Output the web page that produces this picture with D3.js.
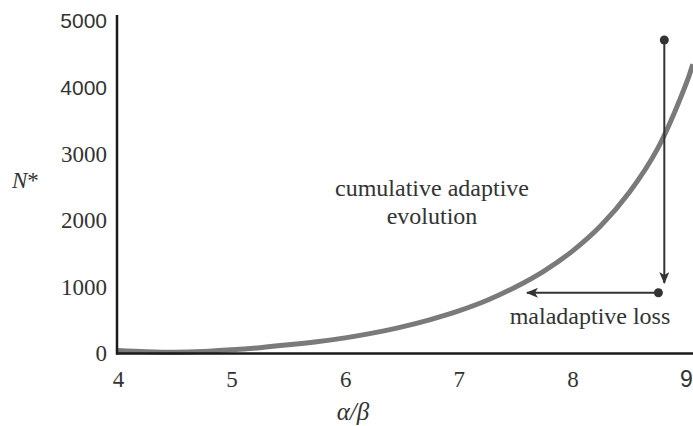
<!DOCTYPE html>
<html>
<head>
<meta charset="utf-8">
<script src="https://cdn.jsdelivr.net/npm/d3@7"></script>
</head>
<body style="margin:0; background:#fff">
<svg id="chart" width="693" height="426"></svg>
<script>
// curve N*(alpha/beta)
const ratio = [4.0, 4.25, 4.5, 4.75, 5.0, 5.25, 5.5, 5.75, 6.0, 6.25, 6.5, 6.75, 7.0, 7.25, 7.5, 7.75, 8.0, 8.25, 8.5, 8.75, 9.0, 9.06];
const nStar = [45, 28, 20, 30, 55, 88, 130, 178, 235, 310, 400, 510, 640, 800, 1000, 1240, 1540, 1920, 2420, 3080, 4050, 4350];

const xTicks = [4, 5, 6, 7, 8, 9];
const yTicks = [0, 1000, 2000, 3000, 4000, 5000];

// annotation arrows
const arrowDown = { x: 8.809, from: 4714, to: 1060 };   // vertical arrow
const arrowLeft = { y: 913, from: 8.757, to: 7.60 };    // horizontal arrow

const serif = "Liberation Serif";
const sans = "Liberation Sans";
const ink = "#333";

const svg = d3.select("#chart");

const x = d3.scaleLinear().domain([4, 9]).range([118, 686]);
const y = d3.scaleLinear().domain([0, 5000]).range([353.5, 21]);

// arrow heads
svg.append("defs").append("marker")
    .attr("id", "head")
    .attr("viewBox", "0 0 12 10")
    .attr("refX", 11)
    .attr("refY", 5)
    .attr("markerWidth", 12)
    .attr("markerHeight", 10)
    .attr("markerUnits", "userSpaceOnUse")
    .attr("orient", "auto")
    .append("path")
    .attr("d", "M0,0 L12,5 L0,10 L3,5 Z")
    .attr("fill", ink);

// curve
const line = d3.line()
    .x((d, i) => x(ratio[i]))
    .y(d => y(d))
    .curve(d3.curveCatmullRom);

svg.append("path")
    .datum(nStar)
    .attr("d", line)
    .attr("fill", "none")
    .attr("stroke", "#7a7a7a")
    .attr("stroke-width", 5);

// axes (no tick marks)
const gx = svg.append("g")
    .attr("transform", `translate(0,${y(0)})`)
    .call(d3.axisBottom(x).tickValues(xTicks).tickSize(0).tickPadding(17).tickFormat(d3.format("d")));
gx.select(".domain").remove();
gx.selectAll("text")
    .attr("font-family", d => d === 9 ? sans : serif)
    .attr("font-size", 23)
    .attr("fill", ink);

const gy = svg.append("g")
    .attr("transform", `translate(${x(4) - 1},0)`)
    .call(d3.axisLeft(y).tickValues(yTicks).tickSize(0).tickPadding(10).tickFormat(d3.format("d")));
gy.select(".domain").remove();
gy.selectAll("text")
    .attr("font-family", d => d >= 4000 ? sans : serif)
    .attr("font-size", d => d >= 4000 ? 21 : 23)
    .attr("fill", ink);

svg.append("line")
    .attr("x1", x(4) - 1).attr("x2", x(4) - 1)
    .attr("y1", y(5090)).attr("y2", y(0) + 1)
    .attr("stroke", "#1a1a1a").attr("stroke-width", 2.5);
svg.append("line")
    .attr("x1", x(4) - 2).attr("x2", 693)
    .attr("y1", y(0)).attr("y2", y(0))
    .attr("stroke", "#1a1a1a").attr("stroke-width", 2.5);

// arrows with dots
svg.append("line")
    .attr("x1", x(arrowDown.x)).attr("x2", x(arrowDown.x))
    .attr("y1", y(arrowDown.from)).attr("y2", y(arrowDown.to))
    .attr("stroke", ink).attr("stroke-width", 2)
    .attr("marker-end", "url(#head)");
svg.append("circle")
    .attr("cx", x(arrowDown.x)).attr("cy", y(arrowDown.from))
    .attr("r", 4.5).attr("fill", ink);

svg.append("line")
    .attr("x1", x(arrowLeft.from)).attr("x2", x(arrowLeft.to))
    .attr("y1", y(arrowLeft.y)).attr("y2", y(arrowLeft.y))
    .attr("stroke", ink).attr("stroke-width", 2)
    .attr("marker-end", "url(#head)");
svg.append("circle")
    .attr("cx", x(arrowLeft.from)).attr("cy", y(arrowLeft.y))
    .attr("r", 4.5).attr("fill", ink);

// labels
function label(tx, ty, str, size, italic) {
    return svg.append("text")
        .attr("x", tx).attr("y", ty)
        .attr("text-anchor", "middle")
        .attr("font-family", serif)
        .attr("font-size", size)
        .attr("font-style", italic ? "italic" : "normal")
        .attr("fill", ink)
        .text(str);
}
label(432, 196, "cumulative adaptive", 24);
label(432, 224, "evolution", 24);
label(590, 324, "maladaptive loss", 24);
label(353, 420, "α/β", 25, true);

const ny = svg.append("text")
    .attr("x", 12).attr("y", 188)
    .attr("font-family", serif).attr("font-size", 23).attr("fill", ink);
ny.append("tspan").attr("font-style", "italic").text("N");
ny.append("tspan").text("*");
</script>
</body>
</html>
